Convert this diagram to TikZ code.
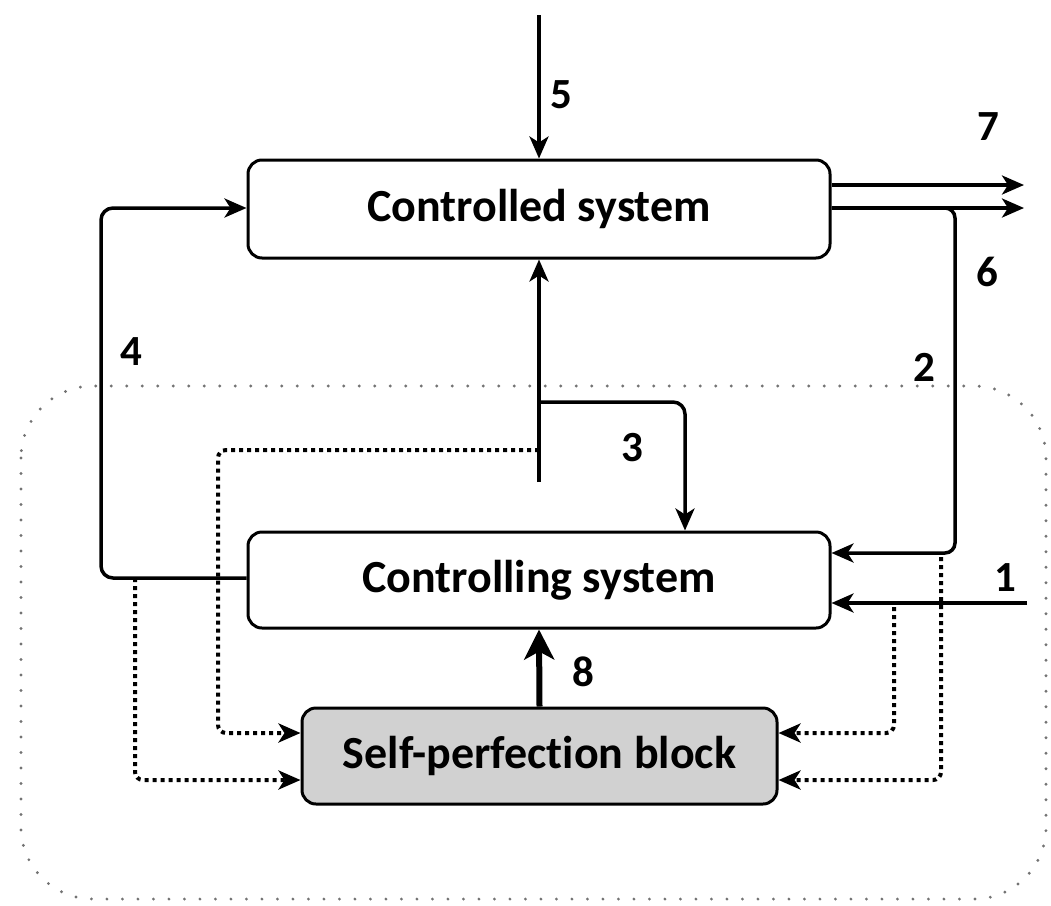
\documentclass[tikz,border=0pt]{standalone}
\usepackage{fontspec}
\setmainfont{Carlito}[Ligatures=NoCommon]
\usetikzlibrary{arrows.meta}

\begin{document}
\begin{tikzpicture}[x=1pt,y=-1pt,
  blk/.style={draw=black, line width=3pt, rounded corners=14pt, fill=white,
    font=\fontsize{46}{54}\selectfont\bfseries, inner sep=0pt},
  lbl/.style={font=\fontsize{43}{50}\selectfont\bfseries, inner sep=0pt},
  tip/.style={-{Stealth[length=22pt,width=19pt,inset=6pt]}},
  line/.style={line width=3.5pt, tip},
  thickline/.style={line width=6pt, -{Stealth[length=30pt,width=30pt,inset=8pt]}},
  dots/.style={line width=4pt, dash pattern=on 4pt off 4pt, tip},
  frame/.style={draw=black!55, line width=3.2pt, line cap=round,
    dash pattern=on 0pt off 15.5pt, rounded corners=72pt}]
\useasboundingbox (0,0) rectangle (1051,905);

% enclosing boundary of the control part
\draw[frame] (21,386) rectangle (1046,899);

% blocks
\node[blk, minimum width=582pt, minimum height=98pt] (cd) at (539,209) {Controlled system};
\node[blk, minimum width=582pt, minimum height=96pt] (cg) at (539,580) {Controlling system};
\node[blk, fill=black!18, minimum width=475pt, minimum height=96pt] (sp) at (539.5,756) {Self-perfection block};

% helper points
\coordinate (in5) at (539,15);
\coordinate (o7a) at (1024,185);
\coordinate (o7b) at (1024,208);
\coordinate (c6) at (955,208);
\coordinate (c2) at (955,553);
\coordinate (in1) at (1027,603);
\coordinate (c4a) at (101,578);
\coordinate (c4b) at (101,208);
\coordinate (s3) at (539,482);
\coordinate (b3) at (539,402);
\coordinate (c3) at (685,402);
\coordinate (d1a) at (539,450);
\coordinate (d1b) at (218,450);
\coordinate (d1c) at (218,733);
\coordinate (d2a) at (135,578);
\coordinate (d2b) at (135,780);
\coordinate (d3a) at (894,607);
\coordinate (d3b) at (894,733);
\coordinate (d4a) at (941,557);
\coordinate (d4b) at (941,780);

% solid connectors
\draw[line] (in5) -- (cd.north);
\draw[line] (cd.east |- o7a) -- (o7a);
\draw[line] (cd.east |- o7b) -- (o7b);
\draw[line, rounded corners=10pt] (cd.east |- c6) -- (c6) -- (c2) -- (cg.east |- c2);
\draw[line] (in1) -- (cg.east |- in1);
\draw[line, rounded corners=12pt] (cg.west |- c4a) -- (c4a) -- (c4b) -- (cd.west |- c4b);
\draw[line, -] (s3) -- (b3);
\draw[line] (b3) -- (cd.south);
\draw[line, rounded corners=12pt] (b3) -- (c3) -- (cg.north -| c3);
\draw[thickline] (sp.north) -- (cg.south);

% dotted feeds into the self-perfection block
\draw[dots, rounded corners=8pt] (d1a) -- (d1b) -- (d1c) -- (sp.west |- d1c);
\draw[dots, rounded corners=8pt] (d2a) -- (d2b) -- (sp.west |- d2b);
\draw[dots, rounded corners=8pt] (d3a) -- (d3b) -- (sp.east |- d3b);
\draw[dots, rounded corners=8pt] (d4a) -- (d4b) -- (sp.east |- d4b);

% signal numbers
\node[lbl] (n5) at (561,95) {5};
\node[lbl] (n7) at (988,127) {7};
\node[lbl] (n6) at (987,272) {6};
\node[lbl] (n4) at (131,352) {4};
\node[lbl] (n2) at (924,367) {2};
\node[lbl] (n3) at (632,448) {3};
\node[lbl] (n1) at (1005,578) {1};
\node[lbl] (n8) at (583,672) {8};
\end{tikzpicture}
\end{document}
